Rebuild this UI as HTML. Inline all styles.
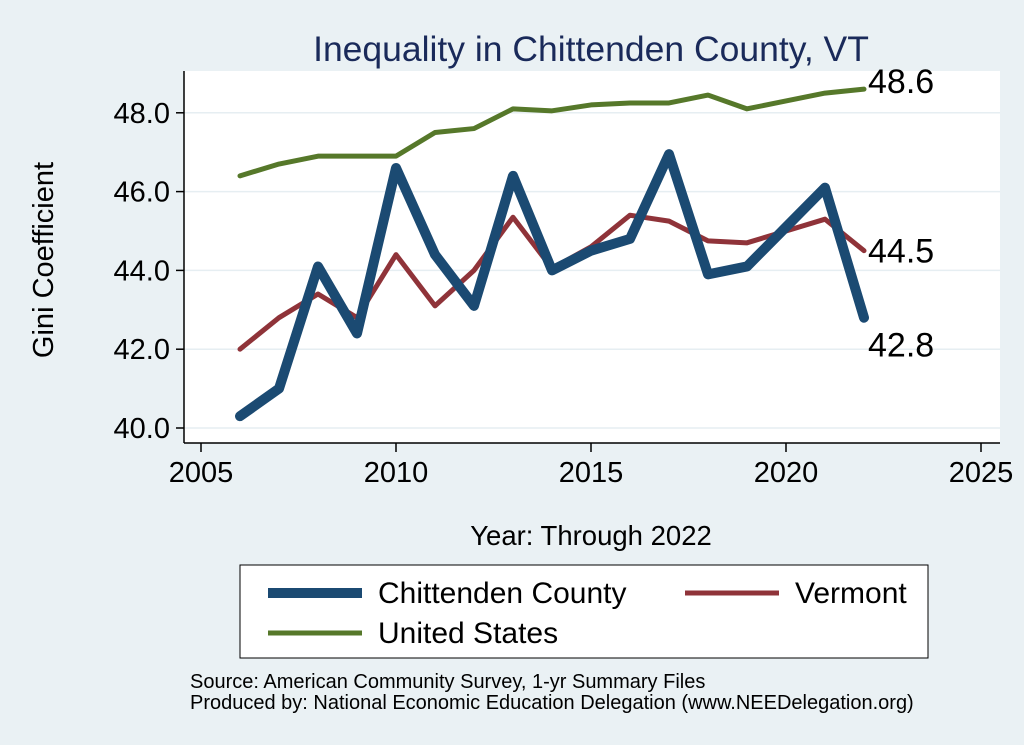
<!DOCTYPE html>
<html><head><meta charset="utf-8"><style>
body{margin:0;background:#eaf1f4;}
svg{display:block;font-family:"Liberation Sans",sans-serif;}
</style></head><body>
<svg width="1024" height="745">
<rect x="0" y="0" width="1024" height="745" fill="#eaf1f4"/>
<text x="591" y="61" font-size="35.5" fill="#1a2a5a" text-anchor="middle">Inequality in Chittenden County, VT</text>
<rect x="184" y="71" width="816" height="372" fill="#fff"/>
<g id="grid"></g>
<line x1="184" y1="71" x2="184" y2="443" stroke="#000" stroke-width="1.5"/>
<line x1="184" y1="443" x2="1000" y2="443" stroke="#000" stroke-width="1.5"/>
<g id="axes"></g>
<g id="series"></g>
<text x="53" y="260" font-size="29" transform="rotate(-90 53 260)" text-anchor="middle">Gini Coefficient</text>
<text x="591" y="545" font-size="27.5" text-anchor="middle">Year: Through 2022</text>
<g>
<rect x="240" y="565" width="688" height="93" fill="#fff" stroke="#000" stroke-width="1"/>
<line x1="268" y1="593" x2="362" y2="593" stroke="#1b4a72" stroke-width="10"/>
<text x="378" y="603" font-size="30">Chittenden County</text>
<line x1="685" y1="593" x2="779" y2="593" stroke="#8f3339" stroke-width="5"/>
<text x="795" y="603" font-size="30">Vermont</text>
<line x1="268" y1="633" x2="362" y2="633" stroke="#56782a" stroke-width="5"/>
<text x="378" y="643" font-size="30">United States</text>
</g>
<text x="190" y="688" font-size="20">Source: American Community Survey, 1-yr Summary Files</text>
<text x="190" y="709" font-size="20">Produced by: National Economic Education Delegation (www.NEEDelegation.org)</text>
</svg>
<script>
const years=[2006,2007,2008,2009,2010,2011,2012,2013,2014,2015,2016,2017,2018,2019,2020,2021,2022];
const chittenden=[40.3,41.0,44.1,42.4,46.6,44.4,43.1,46.4,44.0,44.5,44.8,46.95,43.9,44.1,45.1,46.1,42.8];
const vermont=[42.0,42.8,43.4,42.8,44.4,43.1,44.0,45.35,44.05,44.6,45.4,45.25,44.75,44.7,45.0,45.3,44.5];
const us=[46.4,46.7,46.9,46.9,46.9,47.5,47.6,48.1,48.05,48.2,48.25,48.25,48.45,48.1,48.3,48.5,48.6];
const yTicks=[40,42,44,46,48];
const xTicks=[2005,2010,2015,2020,2025];
const NS="http://www.w3.org/2000/svg";
const X=v=>201+(v-2005)*39;
const Y=v=>428-(v-40)*39.4;
function mk(t,a,p){const e=document.createElementNS(NS,t);for(const k in a)e.setAttribute(k,a[k]);p.appendChild(e);return e;}
const grid=document.getElementById('grid'),axes=document.getElementById('axes'),ser=document.getElementById('series');
yTicks.forEach(v=>{
 const g=mk('line',{x1:184,x2:1000,y1:Y(v),y2:Y(v),stroke:'#e6eef2','stroke-width':1.5},grid);
 
 
 mk('line',{x1:176,x2:184,y1:Y(v),y2:Y(v),stroke:'#000','stroke-width':1.5},axes);
 const t=mk('text',{x:170,y:Y(v)+10,'font-size':29,'text-anchor':'end'},axes);t.textContent=v.toFixed(1);
 
 
});
xTicks.forEach(v=>{
 mk('line',{x1:X(v),x2:X(v),y1:443,y2:452,stroke:'#000','stroke-width':1.5},axes);
 const t=mk('text',{x:X(v),y:482,'font-size':29,'text-anchor':'middle'},axes);t.textContent=v;
 
 
});
function line(d,col,w,name){
 const p=mk('polyline',{points:d.map((v,i)=>X(years[i])+','+Y(v)).join(' '),fill:'none',stroke:col,'stroke-width':w,'stroke-linejoin':'round','stroke-linecap':'round'},ser);
 
 
}
line(us,'#56782a',5,'us-line');
line(vermont,'#8f3339',5,'vermont-line');
line(chittenden,'#1b4a72',10,'chittenden-line');
function lab(d,dy,name){
 const n=d.length-1;
 const t=mk('text',{x:X(years[n])+4,y:Y(d[n])+dy,'font-size':34},ser);t.textContent=d[n].toFixed(1);
 
 
}
lab(us,4,'us-end-label');lab(vermont,12,'vermont-end-label');lab(chittenden,39,'chittenden-end-label');
</script>
</body></html>
